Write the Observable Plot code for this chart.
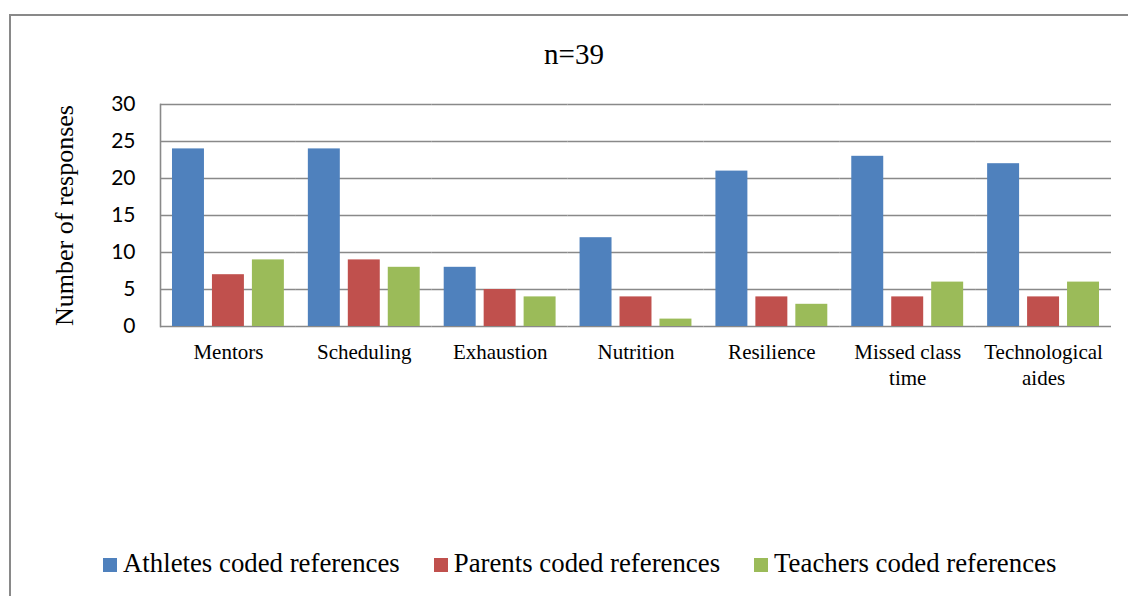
<!DOCTYPE html>
<html>
<head>
<meta charset="utf-8">
<script src="https://cdn.jsdelivr.net/npm/d3@7"></script>
<script src="https://cdn.jsdelivr.net/npm/@observablehq/plot@0.6"></script>
<style>
  html, body { margin: 0; padding: 0; background: #fff; overflow: hidden; }
  #chart { position: relative; width: 1128px; height: 596px; overflow: hidden; }
  #border { position: absolute; left: 9px; top: 14px; width: 1200px; height: 700px; border: 2px solid #898989; box-sizing: border-box; }
  #title { position: absolute; left: 474px; width: 200px; top: 40px; text-align: center; font-family: "Liberation Serif", serif; font-size: 29px; line-height: 29px; color: #000; }
  #plot { position: absolute; left: 0; top: 0; }
  #plot g[aria-label="y-axis label"] text { font-family: "Liberation Serif", serif !important; font-size: 26px !important; }
  #legend { position: absolute; left: 103px; top: 550px; display: flex; gap: 34px; font-family: "Liberation Serif", serif; font-size: 26.8px; line-height: 26px; color: #000; white-space: nowrap; }
  .item { display: flex; align-items: center; }
  .sw { width: 14px; height: 14px; margin-right: 6px; margin-top: 3px; }
</style>
</head>
<body>
<div id="chart">
  <div id="border"></div>
  <div id="title"></div>
  <div id="plot"></div>
  <div id="legend"></div>
</div>
<script>
const title = "n=39";
const categories = ["Mentors", "Scheduling", "Exhaustion", "Nutrition", "Resilience", "Missed class time", "Technological aides"];
const tickLabels = ["Mentors", "Scheduling", "Exhaustion", "Nutrition", "Resilience", "Missed class\ntime", "Technological\naides"];
const seriesNames = ["Athletes coded references", "Parents coded references", "Teachers coded references"];
const athletes = [24, 24, 8, 12, 21, 23, 22];
const parents = [7, 9, 5, 4, 4, 4, 4];
const teachers = [9, 8, 4, 1, 3, 6, 6];
const colors = ["#4F81BD", "#C0504D", "#9BBB59"];
const yTicks = [0, 5, 10, 15, 20, 25, 30];
const yLabel = "Number of responses";

const seriesValues = [athletes, parents, teachers];
const data = [];
categories.forEach((c, i) => {
  seriesNames.forEach((s, j) => data.push({category: c, series: s, value: seriesValues[j][i]}));
});

document.getElementById("title").textContent = title;

const gridColor = "#898989";
const plot = Plot.plot({
  width: 1128,
  height: 400,
  marginLeft: 160,
  marginRight: 17,
  marginTop: 104,
  marginBottom: 74,
  fx: {domain: categories, padding: 0, round: false, label: null},
  x: {domain: seriesNames, paddingInner: 0.2, paddingOuter: 0.3, round: false, axis: null},
  y: {domain: [0, 30]},
  color: {domain: seriesNames, range: colors},
  style: {background: "transparent"},
  marks: [
    Plot.ruleY(yTicks, {stroke: gridColor, strokeWidth: 1.6}),
    Plot.barY(data, {fx: "category", x: "series", y: "value", fill: "series", inset: 0}),
    Plot.frame({anchor: "left", facetAnchor: "left", stroke: gridColor, strokeWidth: 1.6}),
    Plot.axisY({ticks: yTicks, tickSize: 0, tickPadding: 25, fontSize: 21, fontFamily: "Lato, 'Liberation Sans', sans-serif", fill: "#000", label: null}),
    Plot.axisY({ticks: [], tickSize: 0, label: yLabel, labelAnchor: "center", labelArrow: false, labelOffset: 106, fontSize: 26, fontFamily: "'Liberation Serif', serif", fill: "#000"}),
    Plot.axisFx({anchor: "bottom", tickSize: 0, tickPadding: 15, label: null, fontSize: 21, fontFamily: "'Liberation Serif', serif", fill: "#000", lineHeight: 1.2,
      tickFormat: d => tickLabels[categories.indexOf(d)]})
  ]
});
document.getElementById("plot").appendChild(plot);

const legend = document.getElementById("legend");
seriesNames.forEach((s, i) => {
  const item = document.createElement("div");
  item.className = "item";
  const sw = document.createElement("span");
  sw.className = "sw";
  sw.style.background = colors[i];
  const t = document.createElement("span");
  t.textContent = s;
  item.appendChild(sw);
  item.appendChild(t);
  legend.appendChild(item);
});
</script>
</body>
</html>
